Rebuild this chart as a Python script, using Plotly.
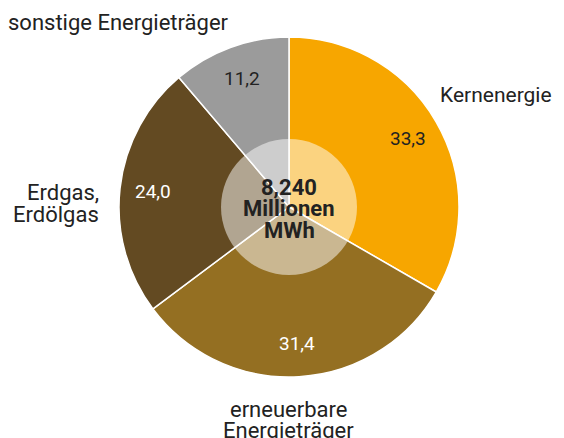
import math
import plotly.graph_objects as go

labels = ["Kernenergie", "erneuerbare Energieträger", "Erdgas, Erdölgas", "sonstige Energieträger"]
values = [33.3, 31.4, 24.0, 11.2]
value_text = ["33,3", "31,4", "24,0", "11,2"]
slice_colors = ["#F7A600", "#946F22", "#634A22", "#9B9B9B"]
value_font_colors = ["#222222", "#FFFFFF", "#FFFFFF", "#222222"]
total_lines = ["8,240", "Millionen", "MWh"]

# page has an 8px body margin, so the figure is 8px smaller than the window
OFF = 8
W, H = 564 - OFF, 438 - OFF


def px(x, y):
    # screen pixel (from top-left of window) -> paper coords
    return (x - OFF) / W, (H - (y - OFF)) / H


cx, cy, R = 289, 207, 170  # pie centre on screen and radius

x0, y1 = px(cx - R, cy - R)
x1, y0 = px(cx + R, cy + R)
fig = go.Figure()
fig.add_trace(go.Pie(
    labels=labels, values=values, sort=False, direction="clockwise", rotation=0,
    marker=dict(colors=slice_colors, line=dict(color="white", width=1.5)),
    textinfo="none", hoverinfo="label+value", showlegend=False,
    domain=dict(x=[x0, x1], y=[y0, y1]),
))

annotations = []


def label(x, y, text, size, color="#222222", xanchor="center", bold=False):
    ax, ay = px(x, y)
    annotations.append(dict(
        x=ax, y=ay, xref="paper", yref="paper", showarrow=False,
        text=f"<b>{text}</b>" if bold else text,
        font=dict(size=size, color=color), xanchor=xanchor, yanchor="middle",
    ))


# value labels at ~0.8 radius, at each slice's mid angle
total = sum(values)
acc = 0
for v, t, c in zip(values, value_text, value_font_colors):
    mid = (acc + v / 2) / total * 2 * math.pi
    acc += v
    r = 0.806 * R
    label(cx + r * math.sin(mid), cy - r * math.cos(mid), t, 19, c)

# category labels outside
label(554, 95, "Kernenergie", 21, xanchor="right")
label(118, 23, "sonstige Energieträger", 22)
label(101, 192, "Erdgas,", 22, xanchor="right")
label(101, 214, "Erdölgas", 22, xanchor="right")
label(288, 409, "erneuerbare", 22)
label(288, 430, "Energieträger", 22)

# total in the centre
for i, t in enumerate(total_lines):
    label(cx, 187 + 21.5 * i, t, 22, bold=True)

ri = 68
cx0, cy1 = px(cx - ri, cy - ri)
cx1, cy0 = px(cx + ri, cy + ri)
fig.update_layout(
    width=W, height=H, margin=dict(l=0, r=0, t=0, b=0),
    paper_bgcolor="white", plot_bgcolor="white",
    font=dict(family="Roboto, Liberation Sans, sans-serif"),
    annotations=annotations,
    shapes=[dict(type="circle", xref="paper", yref="paper",
                 x0=cx0, x1=cx1, y0=cy0, y1=cy1,
                 fillcolor="rgba(255,255,255,0.5)", line=dict(width=0), layer="above")],
)

fig.write_html("out.html")
